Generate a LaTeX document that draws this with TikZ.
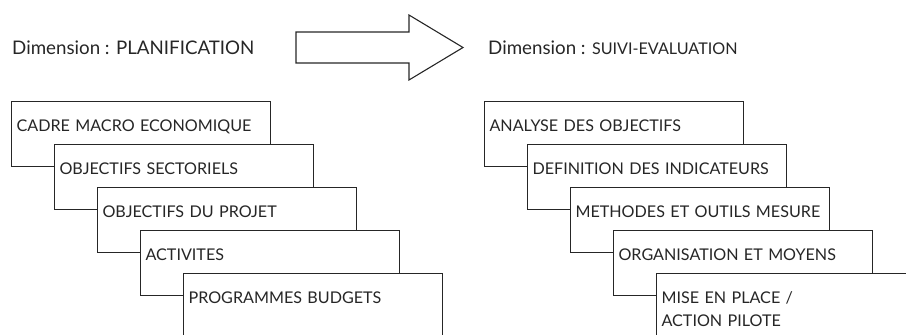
\documentclass[tikz,border=0pt]{standalone}
\usepackage{fontspec}
\setmainfont{Lato}
\usetikzlibrary{positioning}

\begin{document}
\begin{tikzpicture}[x=1bp,y=-1bp,
    trait/.style={draw=black!85,line width=1.1bp},
    etape/.style={trait,fill=white,anchor=north west,minimum width=259bp,
        text width=249bp,align=left,inner xsep=5bp,inner ysep=0pt,
        text height=30bp,text depth=35bp,font=\fontsize{16.2}{23}\selectfont,text=black!85},
    titre/.style={anchor=base west,inner sep=0pt,font=\fontsize{18.8}{22}\selectfont,text=black!85}]
            \useasboundingbox (0,0) rectangle (906,334);
            \node[titre] (dimplan) at (12,54) {Dimension : PLANIFICATION};
            \node[titre] (dimsuivi) at (488,54) {Dimension : {\fontsize{16.2}{18}\selectfont SUIVI-EVALUATION}};
            \draw[trait] (296,32)--(409,32)--(409,15)--(463,47.5)--(409,80)--(409,63)--(296,63)--cycle;
            % planification
            \node[etape] (plan1) at (11,101) {CADRE MACRO ECONOMIQUE};
            \node[etape] (plan2) at (54,144) {OBJECTIFS SECTORIELS};
            \node[etape] (plan3) at (97,187) {OBJECTIFS DU PROJET};
            \node[etape] (plan4) at (140,230) {ACTIVITES};
            \node[etape] (plan5) at (183,273) {PROGRAMMES BUDGETS};
            % suivi-evaluation
            \node[etape] (suivi1) at (484,101) {ANALYSE DES OBJECTIFS};
            \node[etape] (suivi2) at (527,144) {DEFINITION DES INDICATEURS};
            \node[etape] (suivi3) at (570,187) {METHODES ET OUTILS MESURE};
            \node[etape] (suivi4) at (613,230) {ORGANISATION ET MOYENS};
            \node[etape] (suivi5) at (656,273) {MISE EN PLACE /\\ACTION PILOTE};
        \end{tikzpicture}
\end{document}
